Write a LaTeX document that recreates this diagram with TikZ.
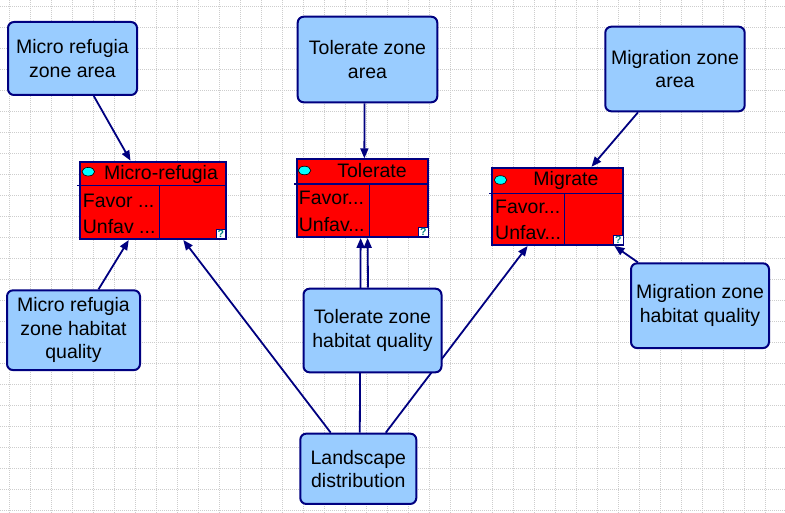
\documentclass[tikz,border=0pt]{standalone}
\usepackage{fontspec}
\setmainfont{Liberation Sans}
\usetikzlibrary{arrows.meta}
\definecolor{navy}{RGB}{0,0,128}
\definecolor{lblue}{RGB}{153,204,255}
\definecolor{qteal}{RGB}{0,128,128}
\definecolor{gridc}{RGB}{205,205,205}
\definecolor{bubc}{RGB}{0,255,255}
\pgfdeclarelayer{bg}
\pgfdeclarelayer{edges}
\pgfsetlayers{bg,edges,main}
\begin{document}
\begin{tikzpicture}[x=1pt,y=-1pt,
  lbl/.style={font=\fontsize{19.5}{23.5}\selectfont, inner sep=0pt},
  bluebox/.style={lbl, draw=navy, line width=2pt, fill=lblue, rounded corners=6pt, align=center},
  redbox/.style={draw=navy, line width=2pt, fill=red, inner sep=0pt},
  divline/.style={navy, line width=1.2pt},
  conn/.style={navy, line width=1.8pt, -{Triangle[length=10pt,width=8pt]}},
  gridline/.style={gridc, line width=0.9pt, dash pattern=on 1pt off 1pt},
  qbox/.style={draw=navy, line width=0.9pt, fill=white},
  qmark/.style={font=\fontsize{10.5}{10.5}\selectfont\bfseries, text=qteal, inner sep=0pt},
  bubble/.style={fill=bubc, draw=black, line width=0.6pt},
]
\useasboundingbox (0,0) rectangle (785,513);
\begin{pgfonlayer}{bg}
\fill[white] (0,0) rectangle (785,513);
\foreach \i in {0,...,36} \draw[gridline] (9.3+21*\i,0) -- (9.3+21*\i,513);
\foreach \j in {0,...,24} \draw[gridline] (0,6.5+21*\j) -- (785,6.5+21*\j);
\end{pgfonlayer}

% blue boxes
\node[bluebox, minimum width=129pt, minimum height=73pt] (mrza) at (72.5,58.5) {Micro refugia\\zone area};
\node[bluebox, minimum width=139.6pt, minimum height=85.6pt] (tza) at (367.5,59.5) {Tolerate zone\\area};
\node[bluebox, minimum width=139.4pt, minimum height=84.6pt] (mza) at (675,69) {Migration zone\\area};
\node[bluebox, minimum width=133pt, minimum height=79.7pt] (mrhq) at (73.5,330.2) {Micro refugia\\zone habitat\\quality};
\node[bluebox, minimum width=138pt, minimum height=83.6pt] (tzhq) at (372.5,330.5) {Tolerate zone\\habitat quality};
\node[bluebox, minimum width=138pt, minimum height=84.7pt] (mzhq) at (700,305.7) {Migration zone\\habitat quality};
\node[bluebox, minimum width=116pt, minimum height=70.3pt] (land) at (358.3,468.8) {Landscape\\distribution};

% red boxes
\node[redbox, minimum width=145.4pt, minimum height=77.3pt] (mr) at (153,200.35) {};
\draw[divline] (77,185.7) -- (225.7,185.7);
\draw[divline] (159.3,185.7) -- (159.3,239);
\draw[bubble] (88.3,171.7) ellipse [x radius=6.3pt, y radius=4.3pt];
\node[lbl, anchor=base] (mrtitle) at (161,180) {Micro-refugia};
\node[lbl, anchor=base west] (mrfav) at (82.7,208) {Favor ...};
\node[lbl, anchor=base west] (mrunf) at (82.7,233.3) {Unfav ...};
\draw[qbox] (216,229) rectangle (225.5,238.5);
\node[qmark] (mrq) at (220.75,233.9) {?};

\node[redbox, minimum width=131.3pt, minimum height=77.7pt] (tol) at (362.65,198.15) {};
\draw[divline] (294,184) -- (428.3,184);
\draw[divline] (369.5,184) -- (369.5,237);
\draw[bubble] (304.5,170.5) ellipse [x radius=6.3pt, y radius=4.3pt];
\node[lbl, anchor=base] (toltitle) at (372,177.3) {Tolerate};
\node[lbl, anchor=base west] (tolfav) at (298.7,204.7) {Favor...};
\node[lbl, anchor=base west] (tolunf) at (298.7,231.3) {Unfav...};
\draw[qbox] (418.5,227) rectangle (428,236.5);
\node[qmark] (tolq) at (423.25,231.9) {?};

\node[redbox, minimum width=131.3pt, minimum height=77.3pt] (mig) at (557.65,206.35) {};
\draw[divline] (489,193.3) -- (623.3,193.3);
\draw[divline] (564.3,193.3) -- (564.3,245);
\draw[bubble] (500.5,180) ellipse [x radius=6.3pt, y radius=4.3pt];
\node[lbl, anchor=base] (migtitle) at (566,186) {Migrate};
\node[lbl, anchor=base west] (migfav) at (495,213.5) {Favor...};
\node[lbl, anchor=base west] (migunf) at (495,240) {Unfav...};
\draw[qbox] (613.5,235) rectangle (623,244.5);
\node[qmark] (migq) at (618.25,239.9) {?};

% connectors
\begin{pgfonlayer}{edges}
\draw[conn] (mrza) -- (mr);
\draw[conn] ([xshift=-3pt]tza.south) -- ([xshift=1.7pt]tol.north);
\draw[conn] (mza) -- (mig);
\draw[conn] (mrhq) -- (mr);
\draw[conn] (land) -- (mr);
\draw[conn] ([xshift=1.5pt]land.north) -- ([xshift=-2pt]tol.south);
\draw[conn] ([xshift=-4.5pt]tzhq.north) -- ([xshift=5pt]tol.south);
\draw[conn] (land) -- (mig);
\draw[conn] (mzhq) -- (mig);
\end{pgfonlayer}
\end{tikzpicture}
\end{document}
